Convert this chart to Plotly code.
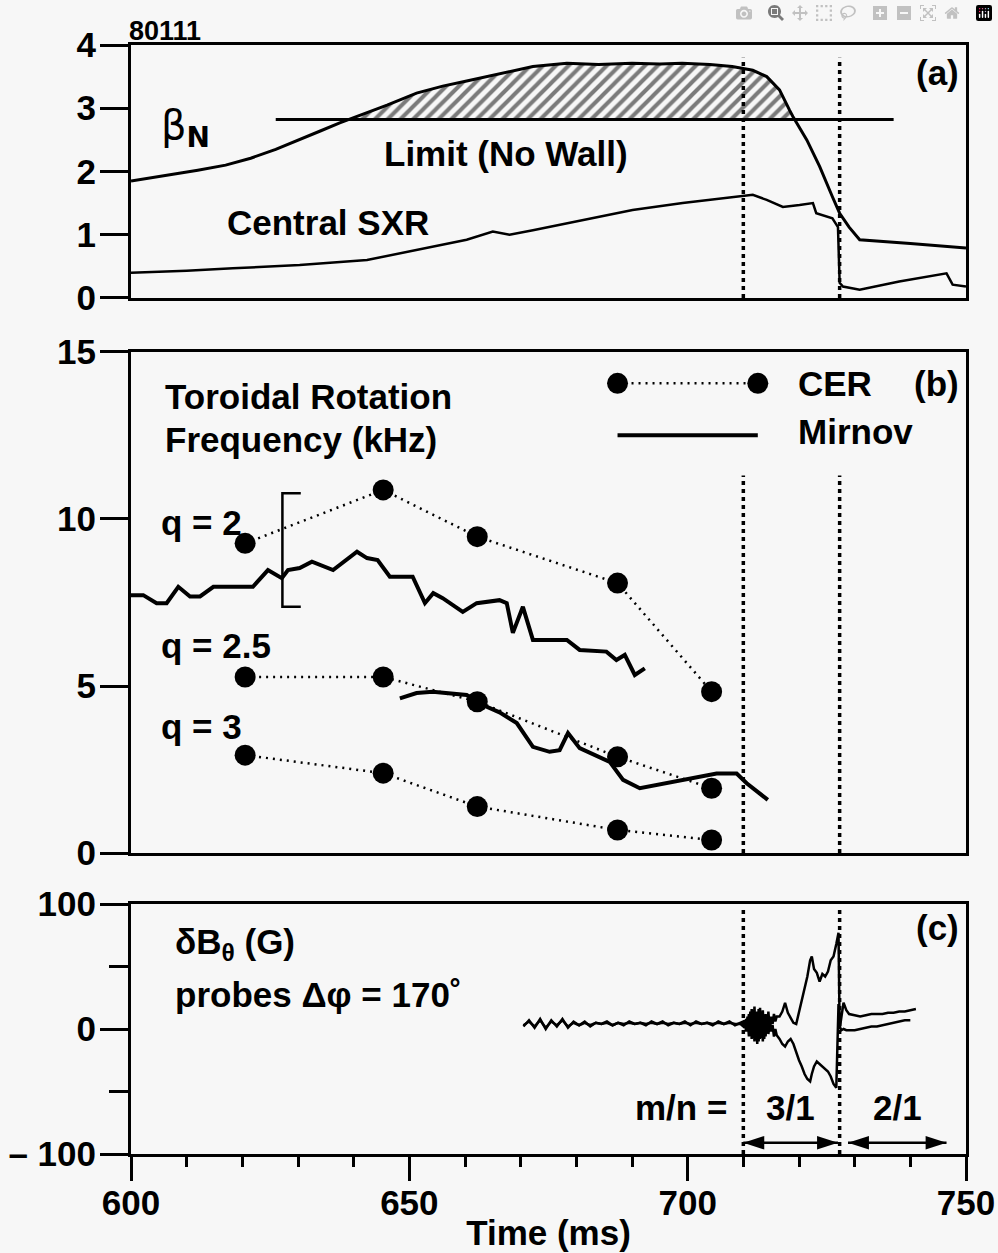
import plotly.graph_objects as go
import numpy as np

# ---------------- data ----------------
# Panel (a): normalized beta and central soft X-ray
t_beta = [600, 606, 612, 617, 621.5, 626, 630.3, 634, 637.5, 642.4, 646, 651.3, 656, 660.3, 665,
          669.3, 672.2, 678.3, 684, 690, 695, 699, 704, 708, 711.7, 714.2, 716.5, 718.3, 718.9,
          721.4, 723.7, 726, 727.3, 729, 730.9, 740, 750]
beta_n = [1.85, 1.93, 2.02, 2.10, 2.21, 2.35, 2.50, 2.64, 2.77, 2.93, 3.05, 3.24, 3.35, 3.43, 3.52,
          3.60, 3.66, 3.71, 3.69, 3.71, 3.70, 3.71, 3.69, 3.66, 3.60, 3.50, 3.29, 2.97, 2.87,
          2.50, 2.08, 1.60, 1.34, 1.12, 0.92, 0.86, 0.79]
limit_t = [626, 737]
limit_val = 2.82

t_sxr = [600, 610, 618.3, 630.3, 642.4, 651.3, 660.3, 665, 668, 672.2, 681.2, 690.1, 699.1, 708,
         711.7, 714.2, 717.1, 720.1, 722.5, 723.1, 726, 727, 727.3, 727.9, 730.9, 738, 744, 746.5,
         747.6, 750]
sxr = [0.40, 0.43, 0.47, 0.52, 0.60, 0.76, 0.92, 1.05, 1.00, 1.07, 1.23, 1.39, 1.50, 1.60,
       1.63, 1.55, 1.44, 1.47, 1.50, 1.34, 1.26, 1.12, 0.24, 0.18, 0.13, 0.26, 0.35, 0.39,
       0.21, 0.18]

# Panel (b): toroidal rotation frequency (kHz)
cer_t = [620.5, 645.3, 662.2, 687.4, 704.3]
cer_q2 = [9.27, 10.87, 9.47, 8.08, 4.83]
cer_q25 = [5.27, 5.27, 4.53, 2.88, 1.94]
cer_q3 = [2.93, 2.39, 1.39, 0.69, 0.39]

mirnov_q2_t = [600, 602.2, 604.6, 606.4, 608.5, 610.6, 612.4, 614.8, 621.9, 624.6, 627.1, 628.2,
               630.3, 632.5, 636.3, 640.6, 642.4, 644.3, 646.5, 650.6, 652.8, 654.3, 656, 659.6,
               662.1, 666.2, 667.5, 668.6, 670.4, 672.2, 678.3, 680.6, 685.4, 687.2, 688.7,
               690.5, 692.3]
mirnov_q2 = [7.72, 7.72, 7.48, 7.48, 7.97, 7.68, 7.68, 7.97, 7.97, 8.47, 8.23, 8.47,
             8.53, 8.72, 8.47, 9.02, 8.83, 8.77, 8.27, 8.27, 7.48, 7.78, 7.63, 7.22,
             7.48, 7.57, 7.48, 6.59, 7.37, 6.38, 6.38, 6.08, 6.03, 5.78, 5.93,
             5.33, 5.53]
mirnov_q25_t = [648.3, 651.3, 654.2, 657.3, 660.3, 663.2, 666.2, 669.3, 672.2, 675.2, 677, 678.5,
                680.6, 686, 688.4, 691.4, 696.2, 702.2, 705.2, 708.8, 710.6, 714.4]
mirnov_q25 = [4.63, 4.79, 4.83, 4.79, 4.73, 4.43, 4.21, 3.89, 3.18, 3.03, 3.08, 3.59,
              3.14, 2.73, 2.19, 1.94, 2.09, 2.28, 2.38, 2.38, 2.09, 1.59]

err_t = 627.2
err_lo = 7.37
err_hi = 10.77

# Panel (c): delta B_theta from two probes (G)
t_probe = [670.5, 671.5, 672.5, 673.5, 674.5, 675.5, 676.5, 677.5, 678.5, 679.5,
           680.5, 681.5, 682.5, 683.5, 684.5, 685.5, 686.5, 687.5, 688.5, 689.5,
           690.5, 691.5, 692.5, 693.5, 694.5, 695.5, 696.5, 697.5, 698.5, 699.5,
           700.5, 701.5, 702.5, 703.5, 704.5, 705.5, 706.5, 707.5, 708.5, 709.5,
           710.0, 710.25, 710.5, 710.75, 711.0, 711.25, 711.5, 711.75, 712.0, 712.25,
           712.5, 712.75, 713.0, 713.25, 713.5, 713.75, 714.0, 714.25, 714.5, 714.75,
           715.0, 715.25, 715.5, 715.75, 716.0,
           716.5, 717.0, 717.5, 718.0, 718.5, 719.0, 719.5, 720.0, 720.5, 721.0,
           721.5, 722.0, 722.3, 722.7, 723.2, 723.7, 724.2, 724.7, 725.2, 725.7,
           726.2, 726.7, 727.1,
           727.3, 727.6, 728.0, 728.5, 729.0, 730.0, 731.0, 732.0, 733.0, 734.0,
           735.0, 736.0, 737.0, 738.0, 739.0, 740.0, 741.0]
probe_1 = [2, 7, 1, 8, 0, 7, 2, 8, 1, 6, 3, 6, 2, 5, 4, 6, 3, 5, 3, 6,
           4, 5, 3, 6, 4, 6, 3, 5, 4, 6, 3, 6, 4, 5, 3, 6, 4, 6, 3, 5,
           6, 2, 8, 0, 12, -4, 16, -6, 18, -8, 14, -10, 17, -6, 15, -8, 12, -2, 14, 0,
           10, 4, 12, 6, 10,
           10, 14, 21, 13, 9, 5, 4, 14, 24, 32, 42, 55, 58, 48, 45, 38, 44, 42, 46, 55,
           58, 68, 77,
           0, 10, 21, 15, 12, 11, 10, 11, 12, 12, 12, 13, 13, 14, 14, 15, 16]
probe_2 = [3, 6, 2, 7, 1, 6, 3, 7, 2, 5, 3, 5, 3, 5, 4, 5, 3, 5, 4, 5,
           4, 5, 4, 5, 4, 5, 4, 5, 4, 5, 4, 5, 4, 5, 4, 5, 4, 5, 4, 4,
           2, 7, -2, 10, -6, 14, -8, 15, -10, 12, -12, 16, -8, 13, -10, 9, -6, 11, -4, 6,
           -2, 3, -6, 0, -5,
           -8, -12, -14, -10, -8, -12, -19, -25, -30, -36, -40, -42, -36, -30, -26, -28, -30, -32, -34,
           -38, -44, -47,
           20, 2, -1, 0, -1, -1, -1, 0, 1, 2, 2, 3, 4, 5, 6, 7, 7]

t_onset = [710, 727.3]              # mode-change times (dotted guides)
arrow_y = -91
mode_labels = ["3/1", "2/1"]
mode_spans = [(710, 727.0), (728.8, 746.5)]

# legend sample positions (panel b)
leg_x = [687.4, 712.6]
leg_cer_y = 14.06
leg_mir_y = 12.51

# ---------------- style ----------------
FONT = "Liberation Sans, Arial, sans-serif"
FS = 35
BG = "#f7f7f7"
LW = 3

fig = go.Figure()

# ---- panel (a)
mask = np.array(beta_n) > limit_val
tb = np.array(t_beta); bb = np.array(beta_n)
idx = np.where(mask)[0]
i0, i1 = idx[0], idx[-1]
# crossing points between sampled values and the limit line
tl = tb[i0 - 1] + (limit_val - bb[i0 - 1]) * (tb[i0] - tb[i0 - 1]) / (bb[i0] - bb[i0 - 1])
tr = tb[i1] + (limit_val - bb[i1]) * (tb[i1 + 1] - tb[i1]) / (bb[i1 + 1] - bb[i1])
hx = [tl] + list(tb[mask]) + [tr]
hy = [limit_val] + list(bb[mask]) + [limit_val]
fig.add_trace(go.Scatter(x=hx, y=hy, fill="toself", mode="lines",
                         line=dict(width=0, color="black"),
                         fillcolor="rgba(0,0,0,0)",
                         fillpattern=dict(shape="/", fgcolor="black", bgcolor="rgba(0,0,0,0)",
                                          size=9, solidity=0.45),
                         xaxis="x", yaxis="y", hoverinfo="skip"))
fig.add_trace(go.Scatter(x=t_beta, y=beta_n, mode="lines", line=dict(color="black", width=3),
                         xaxis="x", yaxis="y"))
fig.add_trace(go.Scatter(x=limit_t, y=[limit_val, limit_val], mode="lines",
                         line=dict(color="black", width=3), xaxis="x", yaxis="y"))
fig.add_trace(go.Scatter(x=t_sxr, y=sxr, mode="lines", line=dict(color="black", width=2.5),
                         xaxis="x", yaxis="y"))

# ---- panel (b)
for ser in (cer_q2, cer_q25, cer_q3):
    fig.add_trace(go.Scatter(x=cer_t, y=ser, mode="lines+markers",
                             line=dict(color="black", width=2.5, dash="2px,5px"),
                             marker=dict(color="black", size=21),
                             xaxis="x2", yaxis="y2"))
fig.add_trace(go.Scatter(x=mirnov_q2_t, y=mirnov_q2, mode="lines",
                         line=dict(color="black", width=4), xaxis="x2", yaxis="y2"))
fig.add_trace(go.Scatter(x=mirnov_q25_t, y=mirnov_q25, mode="lines",
                         line=dict(color="black", width=4), xaxis="x2", yaxis="y2"))
fig.add_trace(go.Scatter(x=[err_t + 3.3, err_t, err_t, err_t + 3.3],
                         y=[err_hi, err_hi, err_lo, err_lo], mode="lines",
                         line=dict(color="black", width=2.5), xaxis="x2", yaxis="y2"))

# ---- panel (c)
fig.add_trace(go.Scatter(x=t_probe, y=probe_1, mode="lines",
                         line=dict(color="black", width=2.5), xaxis="x3", yaxis="y3"))
fig.add_trace(go.Scatter(x=t_probe, y=probe_2, mode="lines",
                         line=dict(color="black", width=2.5), xaxis="x3", yaxis="y3"))
# double-headed arrows marking the mode intervals
for (a, b) in mode_spans:
    fig.add_trace(go.Scatter(x=[a, b], y=[arrow_y, arrow_y], mode="lines+markers",
                             line=dict(color="black", width=2.5),
                             marker=dict(symbol="arrow", size=22, angle=[-90, 90],
                                         color="black", line=dict(width=0)),
                             xaxis="x3", yaxis="y3", hoverinfo="skip"))

# ---- shapes
shapes = []
dotted = dict(color="black", width=3.5, dash="4px,4px")
for t in t_onset:
    shapes.append(dict(type="line", xref="x", yref="y", x0=t, x1=t, y0=0, y1=3.8, line=dotted))
    shapes.append(dict(type="line", xref="x2", yref="y2", x0=t, x1=t, y0=0, y1=11.3, line=dotted))
    shapes.append(dict(type="line", xref="x3", yref="y3", x0=t, x1=t, y0=-100, y1=97, line=dotted))
# legend samples
shapes.append(dict(type="line", xref="x2", yref="y2", x0=leg_x[0], x1=leg_x[1], y0=leg_cer_y,
                   y1=leg_cer_y, line=dict(color="black", width=2.5, dash="2px,5px")))
for lx in leg_x:
    shapes.append(dict(type="circle", xref="x2", yref="y2", xsizemode="pixel", ysizemode="pixel",
                       xanchor=lx, yanchor=leg_cer_y, x0=-10.5, x1=10.5, y0=-10.5, y1=10.5,
                       fillcolor="black", line=dict(width=0)))
shapes.append(dict(type="line", xref="x2", yref="y2", x0=leg_x[0], x1=leg_x[1], y0=leg_mir_y,
                   y1=leg_mir_y, line=dict(color="black", width=4)))

# ---- annotations
ann = []
def txt(text, x, y, xref, yref, size=FS, xanchor="left", yanchor="middle", **kw):
    ann.append(dict(text=text, x=x, y=y, xref=xref, yref=yref, showarrow=False,
                    xanchor=xanchor, yanchor=yanchor,
                    font=dict(family=FONT, size=size, color="black", weight="bold"), **kw))

txt("80111", 0, 1, "x domain", "y domain", size=27, yanchor="bottom", yshift=-3, xshift=-4)
ann.append(dict(text="β<sub><b>N</b></sub>", x=605.0, y=2.68, xref="x", yref="y", showarrow=False,
                xanchor="left", yanchor="middle",
                font=dict(family="DejaVu Sans, Liberation Sans", size=40, color="black")))
txt("Limit (No Wall)", 667.4, 2.28, "x", "y", xanchor="center")
txt("Central SXR", 635.3, 1.19, "x", "y", xanchor="center")
txt("(a)", 1, 3.57, "x domain", "y", xanchor="right", xshift=-5)

txt("Toroidal Rotation", 605.7, 13.68, "x2", "y2")
txt("Frequency (kHz)", 605.7, 12.37, "x2", "y2")
txt("q = 2", 605.0, 9.9, "x2", "y2")
txt("q = 2.5", 605.0, 6.2, "x2", "y2")
txt("q = 3", 605.0, 3.8, "x2", "y2")
txt("(b)", 1, 14.07, "x domain", "y2", xanchor="right", xshift=-5)
txt("CER", 719.4, 14.06, "x2", "y2")
txt("Mirnov", 719.4, 12.63, "x2", "y2")

txt("δB<sub>θ</sub> (G)", 607.5, 68, "x3", "y3")
txt("probes Δφ = 170˚", 607.5, 28, "x3", "y3")
txt("(c)", 1, 81.6, "x domain", "y3", xanchor="right", xshift=-5)
txt("m/n =", 707.5, -63, "x3", "y3", xanchor="right")
for lab, (a, b) in zip(mode_labels, mode_spans):
    txt(lab, (a + b) / 2, -63, "x3", "y3", xanchor="center")

tickfont = dict(family=FONT, size=FS, color="black", weight="bold")
base_x = dict(range=[600, 750], showline=True, mirror=True, linewidth=LW, linecolor="black",
              showgrid=False, zeroline=False, automargin=False)
base_y = dict(showline=True, mirror=True, linewidth=LW, linecolor="black", showgrid=False,
              zeroline=False, ticks="outside", ticklen=28, tickwidth=LW, tickcolor="black",
              tickfont=tickfont, automargin=False, ticklabelstandoff=-3)

fig.update_layout(
    width=998, height=1253,
    margin=dict(l=131, r=32, t=45, b=99),
    paper_bgcolor=BG, plot_bgcolor=BG,
    showlegend=False,
    font=dict(family=FONT, size=FS, color="black"),
    xaxis=dict(base_x, domain=[0, 1], anchor="y", showticklabels=False, ticks=""),
    yaxis=dict(base_y, domain=[0.7719, 1.0], anchor="x", range=[0, 4], tickvals=[0, 1, 2, 3, 4]),
    xaxis2=dict(base_x, domain=[0, 1], anchor="y2", showticklabels=False, ticks=""),
    yaxis2=dict(base_y, domain=[0.2714, 0.7232], anchor="x2", range=[0, 15],
                tickvals=[0, 5, 10, 15]),
    xaxis3=dict(base_x, domain=[0, 1], anchor="y3", ticks="outside", ticklen=24, tickwidth=LW,
                tickcolor="black", tickvals=[600, 650, 700, 750], tickfont=tickfont,
                ticklabelstandoff=-8,
                minor=dict(dtick=10, tick0=600, ticks="outside", ticklen=10, tickwidth=LW,
                           tickcolor="black"),
                title=dict(text="Time (ms)", font=dict(family=FONT, size=FS, color="black",
                                                      weight="bold"), standoff=0)),
    yaxis3=dict(base_y, domain=[0, 0.2254], anchor="x3", range=[-100, 100],
                tickvals=[-100, 0, 100], ticktext=["– 100", "0", "100"],
                minor=dict(tickvals=[-50, 50], ticks="outside", ticklen=19, tickwidth=LW,
                           tickcolor="black")),
    shapes=shapes,
    annotations=ann,
)

fig.write_html("out.html", post_script="document.body.style.margin='0px';")
